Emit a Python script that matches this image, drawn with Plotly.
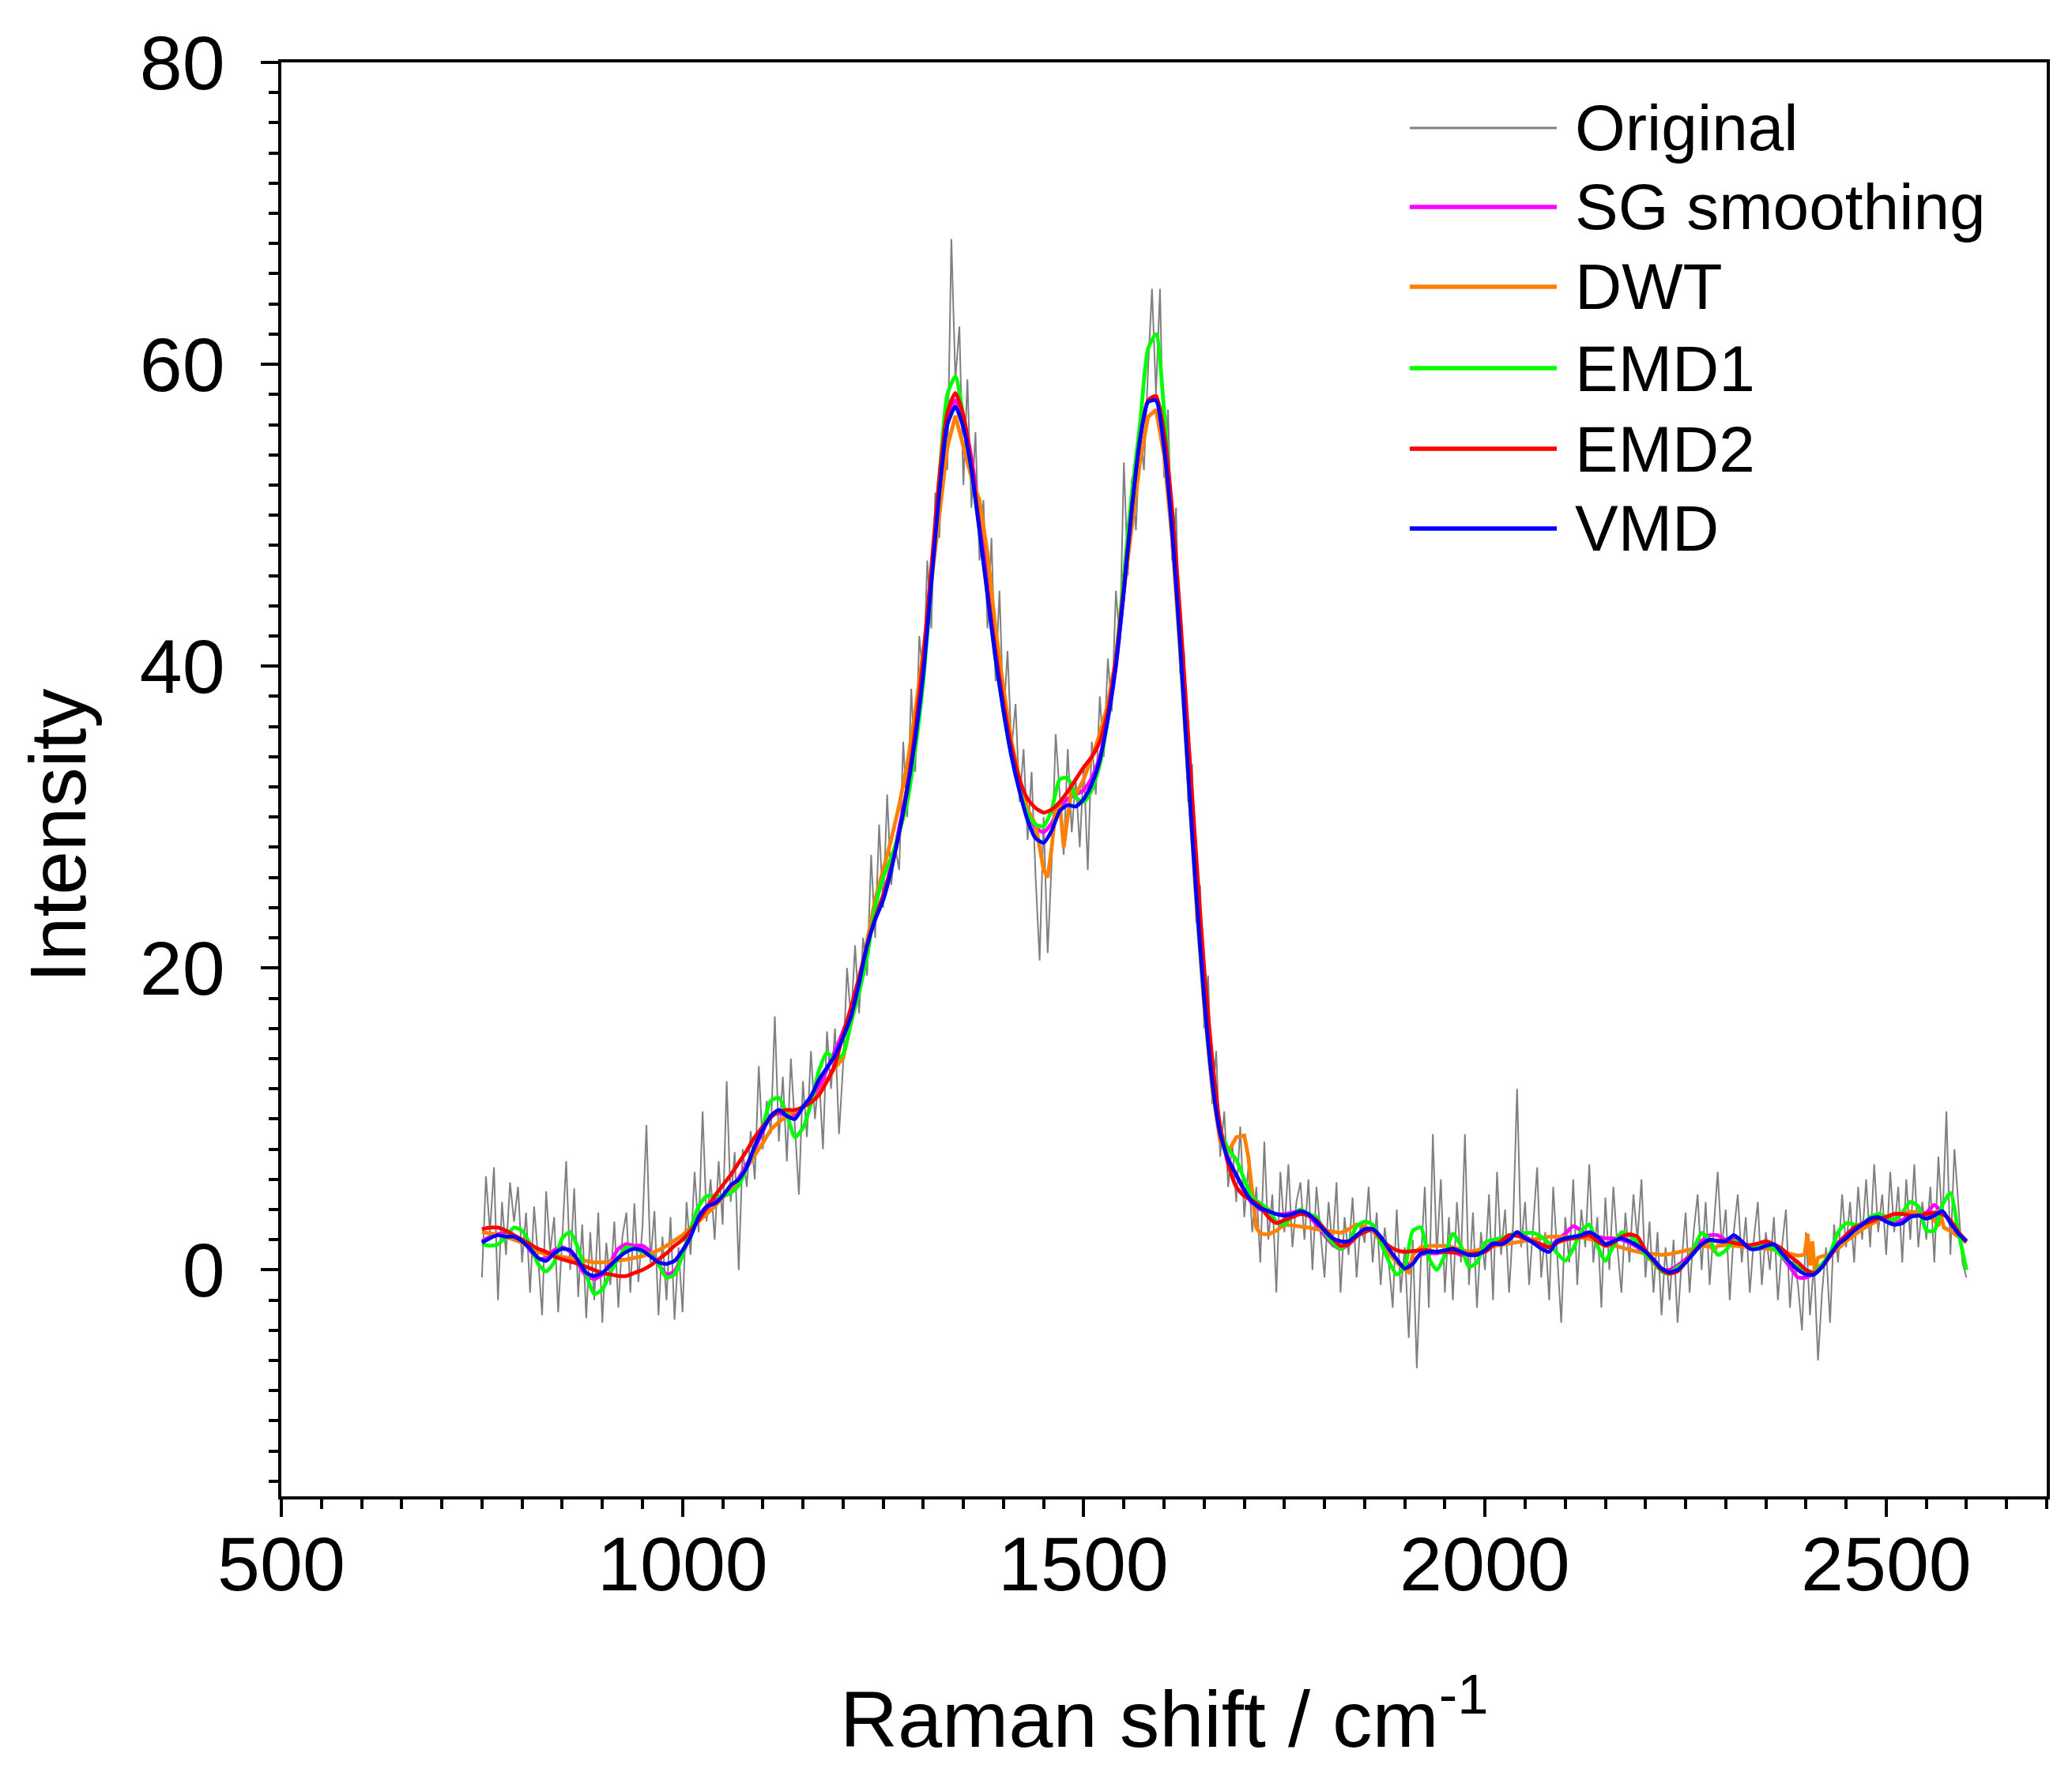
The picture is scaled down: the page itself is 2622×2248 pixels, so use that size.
import plotly.graph_objects as go

# ---------------- data ----------------
x_orig = list(range(750, 2601, 5))
original = [
    -0.5, 6.2, 2.5, 6.8, -2.0, 4.5, 1.0, 5.8, 3.2, 5.5,
    0.5, 3.8, -1.5, 4.2, 0.8, -3.0, 5.2, 1.2, 3.5, -2.8,
    2.0, 7.2, 0.0, 5.4, -1.8, 3.0, -3.2, 2.5, -2.0, 3.8,
    -3.5, 1.8, -1.0, 3.2, -2.5, 2.2, 3.8, -1.5, 4.4, -0.8,
    2.8, 9.6, 0.5, 3.9, -3.0, 2.2, -2.0, 3.5, -3.3, 1.5,
    -2.8, 4.5, 1.0, 6.5, 2.5, 10.5, 3.2, 6.0, 2.0, 7.2,
    3.0, 12.5, 4.5, 7.8, 0.0, 8.0, 5.5, 9.2, 6.0, 13.5,
    8.0, 11.2, 9.0, 16.8, 8.5, 12.8, 7.2, 14.0, 9.5, 5.0,
    12.5, 8.8, 14.5, 10.0, 13.0, 8.0, 15.8, 12.0, 16.0, 9.0,
    13.5, 20.0, 16.5, 21.5, 17.0, 22.0, 19.5, 27.5, 22.0, 29.5,
    24.0, 31.5, 25.5, 28.0, 26.5, 35.0, 30.0, 38.5, 33.0, 42.0,
    39.0, 47.0, 42.5, 51.5, 48.5, 55.0, 53.0, 68.3, 59.0, 62.5,
    52.0, 59.0, 50.5, 55.5, 47.0, 51.0, 42.5, 48.5, 39.0, 45.0,
    36.5, 41.0, 34.5, 37.5, 31.0, 34.5, 28.5, 33.0, 26.0, 20.5,
    30.0, 21.0, 27.0, 35.5, 31.5, 27.5, 34.5, 29.0, 32.5, 28.0,
    33.5, 26.5, 35.0, 31.5, 38.0, 34.0, 40.5, 37.0, 45.0, 41.5,
    53.5, 46.0, 52.5, 49.0, 55.5, 53.0, 59.5, 65.0, 58.0, 65.0,
    52.5, 57.0, 47.0, 50.5, 39.5, 41.0, 31.0, 33.5, 23.0, 25.5,
    16.0, 19.5, 11.0, 14.5, 7.5, 10.5, 5.5, 8.5, 4.5, 9.5,
    3.5, 6.8, 2.5, 5.5, 0.5, 8.5, 2.0, 5.0, -1.5, 6.5,
    2.5, 7.0, 1.5, 4.5, 5.8, 2.0, 6.0, 0.0, 5.5, 2.5,
    -0.5, 4.5, 1.5, 5.8, -1.5, 3.5, 1.0, 4.8, -0.5, 3.2,
    1.8, 5.5, 0.5, 3.8, -1.0, 2.8, 0.5, -2.5, 4.0, -1.5,
    1.5, -4.5, 2.0, -6.5, 0.5, 5.5, -2.5, 9.0, 1.0, 6.0,
    -1.5, 3.5, -2.0, 4.5, 0.5, 9.0, -1.0, 3.8, -2.5, 2.5,
    0.0, 5.0, -2.0, 6.5, 1.0, 4.0, -1.5, 3.0, 12.0, 1.5,
    4.5, -1.0, 3.2, 6.8, -0.5, 2.5, -2.0, 5.5, 1.0, -3.5,
    3.5, 0.5, 6.0, -1.0, 4.0, 1.5, 7.0, 0.5, 3.5, -2.5,
    4.8, 0.0, 5.5, 1.5, -1.5, 3.8, 0.5, 5.0, 2.0, 6.0,
    -0.5, 3.2, -1.5, 2.5, -3.0, 1.5, -2.0, 2.0, -3.5, 0.5,
    3.8, -1.5, 2.5, 5.0, 0.0, 4.5, -1.0, 3.0, 6.5, 1.5,
    4.0, -2.0, 2.5, 5.0, 0.5, 3.5, -1.5, 2.0, 4.5, -1.0,
    2.5, 0.0, 3.5, -2.0, 1.5, 4.0, -2.5, 1.0, -1.0, -4.0,
    2.5, -3.0, 0.5, -6.0, -1.5, 1.5, -3.5, 3.0, 0.5, 5.0,
    1.5, 4.5, 0.5, 5.5, 2.0, 6.0, 1.5, 7.0, 2.5, 5.0,
    1.0, 6.5, 2.5, 5.5, 0.5, 6.0, 2.0, 7.0, 1.5, 4.5,
    2.0, 5.5, 0.5, 7.5, 3.0, 10.5, 1.0, 8.0, 4.0, 0.5,
    -0.5,
]

x_smooth = list(range(750, 2601, 10))
sg = [
    1.9, 2.2, 2.4, 2.4, 2.2, 2.0, 1.3, 0.7, 0.8, 1.3,
    1.5, 1.2, 0.4, -0.4, -0.6, -0.3, 0.5, 1.4, 1.7, 1.6,
    1.6, 1.2, 0.4, -0.3, -0.1, 1.0, 2.4, 3.4, 4.0, 4.6,
    4.9, 5.3, 6.1, 7.0, 8.0, 9.2, 10.2, 10.4, 10.2, 10.3,
    10.8, 11.2, 12.0, 13.3, 14.5, 15.8, 17.2, 19.2, 21.5, 23.4,
    24.8, 26.8, 29.3, 32.0, 35.5, 40.0, 46.0, 52.0, 56.4, 57.6,
    56.4, 53.8, 50.0, 45.8, 41.5, 37.8, 34.5, 32.0, 30.3, 29.3,
    29.0, 29.6, 30.6, 31.2, 31.5, 31.8, 32.6, 34.0, 36.5, 40.0,
    45.0, 50.5, 55.0, 57.5, 57.8, 55.0, 49.5, 42.0, 33.5, 25.5,
    18.3, 12.8, 9.2, 7.4, 6.3, 5.2, 4.4, 4.0, 3.8, 3.7,
    3.7, 3.8, 3.9, 3.6, 3.0, 2.3, 1.7, 1.4, 1.7, 2.3,
    2.6, 2.6, 2.1, 1.3, 0.6, 0.2, 0.6, 1.0, 1.1, 1.1,
    1.2, 1.2, 1.0, 1.0, 1.1, 1.4, 1.8, 1.9, 2.1, 2.5,
    2.2, 1.9, 1.6, 1.5, 2.0, 2.4, 2.9, 2.6, 2.3, 2.2,
    2.1, 2.1, 2.0, 1.8, 1.5, 1.0, 0.5, 0.0, 0.0, 0.3,
    0.7, 1.3, 1.9, 2.3, 2.3, 2.0, 2.1, 1.8, 1.5, 1.5,
    1.7, 1.5, 0.9, 0.2, -0.5, -0.5, -0.2, 0.3, 1.0, 1.8,
    2.3, 2.8, 3.1, 3.3, 3.4, 3.3, 3.1, 3.3, 3.6, 3.7,
    3.8, 4.3, 3.8, 3.2, 2.5, 1.9,
]
emd1 = [
    1.7, 1.6, 1.7, 2.2, 2.8, 2.6, 1.7, 0.4, -0.1, 0.5,
    2.1, 2.5, 1.4, -0.3, -1.6, -1.3, -0.2, 0.8, 1.5, 1.4,
    1.2, 1.0, 0.4, -0.5, -0.3, 1.0, 2.7, 4.2, 4.9, 4.9,
    4.9, 5.1, 5.6, 6.8, 8.2, 9.5, 11.2, 11.4, 10.3, 8.8,
    9.4, 11.0, 13.2, 14.4, 13.9, 14.3, 16.4, 18.4, 20.8, 24.0,
    26.0, 27.3, 29.0, 31.0, 34.5, 39.0, 45.5, 52.5, 58.0, 59.2,
    56.5, 53.0, 49.0, 44.8, 40.5, 37.0, 34.0, 31.8, 30.2, 29.5,
    29.4, 30.5, 32.5, 32.6, 31.3, 31.0, 31.8, 33.5, 36.5, 40.5,
    46.0, 51.5, 56.0, 61.0, 62.0, 57.0, 49.5, 41.5, 33.0, 25.0,
    18.0, 12.5, 9.3, 8.0, 7.3, 6.0, 4.8, 4.4, 4.0, 3.2,
    3.0, 3.6, 4.0, 3.7, 3.5, 2.5, 1.8, 1.4, 1.8, 2.9,
    3.2, 3.0, 1.8, 0.6, -0.3, 0.2, 2.6, 2.8, 0.8, 0.0,
    1.0, 2.4, 1.6, 0.2, 0.5, 1.8, 2.0, 2.1, 2.3, 2.45,
    2.45, 2.45, 2.2, 1.75, 1.1, 0.6, 1.4, 2.6, 3.0, 1.6,
    0.6, 1.6, 2.5, 2.3, 1.8, 1.0, 0.5, -0.1, -0.25, 0.2,
    0.5, 1.4, 2.45, 2.0, 1.0, 1.3, 1.9, 1.8, 1.5, 1.55,
    1.6, 1.4, 0.9, 0.5, 0.2, 0.0, -0.15, 0.4, 1.1, 2.5,
    3.1, 3.0, 3.0, 3.5, 3.7, 3.5, 3.3, 3.8, 4.5, 4.2,
    2.6, 2.6, 4.3, 5.1, 2.5, 0.0,
]
emd2 = [
    2.7, 2.8, 2.8, 2.6, 2.3, 2.0, 1.7, 1.4, 1.2, 0.9,
    0.7, 0.55, 0.4, 0.2, 0.0, -0.2, -0.3, -0.4, -0.4, -0.2,
    0.0, 0.3, 0.7, 1.1, 1.6, 2.0, 2.6, 3.3, 4.1, 4.9,
    5.6, 6.3, 7.1, 7.9, 8.8, 9.5, 10.1, 10.5, 10.6, 10.6,
    10.8, 11.1, 11.6, 12.5, 13.6, 15.6, 17.4, 19.4, 21.5, 23.3,
    24.8, 26.6, 29.0, 32.0, 35.8, 40.5, 46.5, 52.5, 56.8, 58.1,
    56.6, 53.4, 49.2, 45.0, 41.0, 37.5, 34.6, 32.5, 31.2, 30.6,
    30.3, 30.5, 31.0, 31.7, 32.5, 33.3, 34.0, 35.0, 37.0, 40.5,
    45.3, 50.5, 55.0, 57.6, 57.9, 55.5, 50.5, 43.5, 35.5, 27.5,
    20.0, 14.0, 9.5, 7.0, 5.5, 4.9, 4.6, 4.2, 3.5, 3.1,
    3.3, 3.5, 3.7, 3.6, 3.3, 2.7, 2.1, 1.6, 1.7, 2.2,
    2.5, 2.7, 2.1, 1.6, 1.3, 1.2, 1.25, 1.3, 1.3, 1.2,
    1.2, 1.15, 1.1, 1.05, 1.1, 1.2, 1.6, 1.9, 2.3, 2.25,
    2.1, 1.9, 1.7, 1.5, 1.8, 2.0, 2.1, 2.2, 2.3, 1.9,
    1.6, 1.8, 2.2, 2.35, 2.2, 1.3, 0.6, 0.0, -0.25, -0.1,
    0.5, 1.2, 1.7, 1.95, 1.95, 1.9, 1.8, 1.7, 1.65, 1.75,
    1.9, 1.7, 1.4, 0.9, 0.5, 0.0, -0.2, 0.2, 0.9, 1.7,
    2.3, 2.8, 3.0, 3.2, 3.4, 3.5, 3.7, 3.7, 3.6, 3.6,
    3.7, 3.8, 3.7, 3.3, 2.5, 1.9,
]
vmd = [
    1.8, 2.1, 2.3, 2.2, 2.2, 1.9, 1.4, 0.8, 0.6, 1.1,
    1.4, 1.3, 0.6, -0.2, -0.4, -0.2, 0.3, 0.8, 1.2, 1.4,
    1.3, 0.9, 0.5, 0.4, 0.6, 1.3, 2.2, 3.5, 4.2, 4.4,
    4.9, 5.6, 6.0, 6.8, 8.2, 9.3, 10.2, 10.6, 10.2, 10.0,
    10.8, 11.5, 12.6, 13.4, 14.2, 15.4, 16.8, 19.0, 21.5, 23.2,
    24.5, 26.5, 29.0, 31.8, 35.2, 39.5, 45.5, 51.5, 56.0, 57.2,
    55.8, 53.0, 49.0, 44.7, 40.5, 37.0, 34.0, 31.7, 29.8, 28.6,
    28.3, 29.1, 30.4, 30.8, 30.7, 31.2, 32.2, 33.8, 36.5, 40.0,
    45.0, 50.5, 55.0, 57.5, 57.6, 54.5, 49.0, 41.5, 33.0, 25.0,
    18.0, 12.5, 9.0, 7.3, 6.3, 5.3, 4.5, 4.1, 3.9, 3.7,
    3.6, 3.7, 3.9, 3.7, 3.2, 2.6, 2.1, 1.9, 1.9, 2.3,
    2.7, 2.7, 2.2, 1.4, 0.7, 0.1, 0.4, 1.1, 1.2, 1.2,
    1.3, 1.4, 1.2, 1.0, 1.0, 1.3, 1.75, 1.7, 2.0, 2.5,
    2.1, 1.8, 1.4, 1.2, 1.9, 2.1, 2.2, 2.3, 2.5, 2.2,
    1.7, 1.9, 2.1, 1.9, 1.6, 1.2, 0.7, 0.1, -0.15, 0.0,
    0.5, 1.1, 1.7, 2.0, 1.9, 1.9, 2.3, 1.9, 1.4, 1.4,
    1.6, 1.7, 1.1, 0.5, 0.0, -0.3, -0.3, 0.2, 1.0, 1.7,
    2.1, 2.6, 3.0, 3.4, 3.5, 3.2, 3.0, 3.1, 3.5, 3.6,
    3.4, 3.6, 3.9, 3.1, 2.4, 1.9,
]

x_dwt = [
    750, 760, 770, 780, 790, 800, 810, 820, 830, 840,
    850, 860, 870, 880, 890, 900, 910, 920, 930, 940,
    950, 960, 970, 980, 990, 1000, 1010, 1020, 1030, 1040,
    1050, 1060, 1070, 1080, 1090, 1100, 1110, 1120, 1130, 1140,
    1150, 1160, 1170, 1180, 1190, 1200, 1210, 1220, 1230, 1240,
    1250, 1260, 1270, 1280, 1290, 1300, 1310, 1320, 1330, 1340,
    1350, 1360, 1370, 1380, 1390, 1400, 1410, 1420, 1430, 1440,
    1445, 1450, 1455, 1460, 1465, 1470, 1475, 1480, 1485, 1490,
    1500, 1510, 1520, 1530, 1540, 1550, 1560, 1570, 1580, 1590,
    1600, 1610, 1620, 1630, 1640, 1650, 1660, 1670, 1680, 1690,
    1700, 1705, 1710, 1715, 1720, 1730, 1740, 1750, 1760, 1770,
    1780, 1790, 1800, 1810, 1820, 1830, 1840, 1850, 1860, 1870,
    1880, 1890, 1900, 1905, 1910, 1920, 1930, 1940, 1950, 1960,
    1970, 1980, 1990, 2000, 2010, 2020, 2030, 2040, 2050, 2060,
    2070, 2080, 2090, 2100, 2110, 2120, 2130, 2140, 2150, 2160,
    2170, 2180, 2190, 2200, 2210, 2220, 2230, 2240, 2250, 2260,
    2270, 2280, 2285, 2290, 2300, 2310, 2320, 2330, 2340, 2350,
    2360, 2370, 2380, 2390, 2398, 2402, 2405, 2408, 2411, 2415,
    2420, 2430, 2440, 2450, 2460, 2470, 2480, 2490, 2500, 2510,
    2520, 2530, 2540, 2550, 2560, 2565, 2568, 2572, 2580, 2590,
    2600,
]
dwt = [
    2.5, 2.45, 2.35, 2.2, 2.0, 1.8, 1.5, 1.2, 1.05, 0.95,
    0.85, 0.75, 0.65, 0.55, 0.5, 0.5, 0.55, 0.6, 0.7, 0.8,
    0.9, 1.1, 1.3, 1.6, 1.95, 2.3, 2.8, 3.2, 3.7, 4.2,
    4.8, 5.3, 6.0, 6.8, 7.5, 8.4, 9.3, 9.8, 10.2, 10.5,
    10.8, 11.1, 11.7, 12.5, 13.4, 14.0, 16.5, 18.8, 21.8, 24.5,
    26.5, 28.5, 30.8, 33.5, 37.0, 41.0, 45.5, 50.0, 54.5, 56.6,
    54.5, 52.5, 51.0, 47.5, 42.5, 38.5, 35.0, 32.5, 30.5, 29.5,
    28.0, 26.5, 26.0, 28.0, 30.5, 31.0, 28.0, 30.0, 32.0, 31.5,
    32.5, 34.0, 35.5, 37.5, 40.5, 45.0, 49.5, 53.5, 56.5, 57.0,
    54.0, 48.5, 41.0, 32.5, 24.5, 17.5, 12.0, 8.5, 7.8, 8.8,
    8.9, 7.5, 5.0, 2.8, 2.4, 2.35, 2.6, 3.0, 2.95, 2.9,
    2.8, 2.7, 2.6, 2.5, 2.45, 2.7, 3.0, 2.9, 2.6, 1.9,
    1.1, 0.5, 0.0, -0.15, 1.0, 1.5, 1.6, 1.6, 1.6, 1.5,
    1.35, 1.2, 1.3, 1.45, 1.6, 1.65, 1.75, 1.85, 1.9, 2.0,
    2.1, 2.2, 2.2, 2.2, 2.2, 2.15, 2.05, 1.9, 1.75, 1.6,
    1.45, 1.3, 1.2, 1.1, 1.05, 1.0, 1.05, 1.15, 1.25, 1.4,
    1.55, 1.6, 1.3, 1.6, 1.65, 1.6, 1.55, 1.5, 1.45, 1.4,
    1.35, 1.2, 1.05, 0.95, 1.0, 2.4, 0.3, 1.9, -0.1, 0.8,
    0.9, 1.05, 1.4, 1.9, 2.3, 2.7, 3.0, 3.3, 3.55, 3.7,
    3.8, 3.85, 3.8, 3.6, 3.3, 2.9, 3.6, 2.8, 2.6, 2.2,
    1.8,
]

x_ticks = [500, 1000, 1500, 2000, 2500]
y_ticks = [0, 20, 40, 60, 80]

series_names = ["Original", "SG smoothing", "DWT", "EMD1", "EMD2", "VMD"]
series_colors = ["rgb(128,128,128)", "#FF00FF", "#FF8000", "#00FF00", "#FF0000", "#0000FF"]

assert len(original) == len(x_orig), (len(original), len(x_orig))
for name, arr in [("sg", sg), ("emd1", emd1), ("emd2", emd2), ("vmd", vmd)]:
    assert len(arr) == len(x_smooth), (name, len(arr))
assert len(dwt) == len(x_dwt), (len(dwt), len(x_dwt))

# ---------------- figure ----------------
FONT = "Liberation Sans, Arial, Helvetica, sans-serif"
W, H = 2622, 2248
ML, MR, MT, MB = 348, 40, 71, 362
PW, PH = W - ML - MR, H - MT - MB

def px_to_paper_x(px):
    return (px - ML) / PW

def px_to_paper_y(py):
    return 1 - (py - MT) / PH

fig = go.Figure()
xs = [x_orig, x_smooth, x_dwt, x_smooth, x_smooth, x_smooth]
ys = [original, sg, dwt, emd1, emd2, vmd]
widths = [2, 4.8, 4.8, 4.8, 4.8, 4.8]
for i, name in enumerate(series_names):
    line = dict(color=series_colors[i], width=widths[i])
    if name in ("SG smoothing", "EMD1", "EMD2", "VMD"):
        line.update(shape="spline", smoothing=0.6)
    fig.add_trace(go.Scatter(x=xs[i], y=ys[i], mode="lines", name=name,
                             line=line, showlegend=False))

# legend drawn as line samples + labels (matches original legend geometry)
row_y_px = [154, 254, 355, 458, 560, 661]
for i, name in enumerate(series_names):
    yp = px_to_paper_y(row_y_px[i])
    fig.add_shape(type="line", xref="paper", yref="paper",
                  x0=px_to_paper_x(1776), x1=px_to_paper_x(1962), y0=yp, y1=yp,
                  line=dict(color=series_colors[i], width=3 if i == 0 else 5.5))
    fig.add_annotation(xref="paper", yref="paper", x=px_to_paper_x(1983), y=yp,
                       xanchor="left", yanchor="middle", showarrow=False, text=name,
                       font=dict(family=FONT, size=82, color="black"))

# x tick labels
for v in x_ticks:
    fig.add_annotation(xref="x", yref="paper", x=v, y=px_to_paper_y(1972),
                       xanchor="center", yanchor="middle", showarrow=False, text=str(v),
                       font=dict(family=FONT, size=97, color="black"))

# axis titles
fig.add_annotation(xref="paper", yref="paper", x=px_to_paper_x(65), y=px_to_paper_y(1050),
                   xanchor="center", yanchor="middle", showarrow=False, text="Intensity",
                   textangle=-90, font=dict(family=FONT, size=100, color="black"))
fig.add_annotation(xref="paper", yref="paper", x=px_to_paper_x(1465), y=px_to_paper_y(2160),
                   xanchor="center", yanchor="middle", showarrow=False,
                   text="Raman shift / cm<sup>-1</sup>",
                   font=dict(family=FONT, size=101, color="black"))

axis_common = dict(
    showgrid=False, zeroline=False, showline=True, linecolor="black", linewidth=4,
    mirror=True, ticks="outside", ticklen=22, tickwidth=4, tickcolor="black",
    tickfont=dict(family=FONT, size=97, color="black"),
)
fig.update_xaxes(
    range=[500, 2700], tickvals=x_ticks, showticklabels=False,
    minor=dict(dtick=50, tick0=500, ticks="outside", ticklen=12, tickwidth=4, tickcolor="black"),
    **axis_common,
)
fig.update_yaxes(
    range=[-15, 80], tickvals=y_ticks, ticktext=[str(v) for v in y_ticks],
    minor=dict(dtick=2, tick0=0, ticks="outside", ticklen=12, tickwidth=4, tickcolor="black"),
    ticklabelstandoff=26,
    **axis_common,
)
fig.update_layout(
    width=W, height=H,
    margin=dict(l=ML, r=MR, t=MT, b=MB),
    paper_bgcolor="white", plot_bgcolor="white",
    showlegend=False,
)
fig.write_html("out.html")
